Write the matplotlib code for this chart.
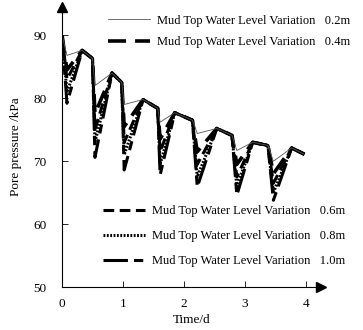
import matplotlib
matplotlib.use('Agg')
import matplotlib.pyplot as plt

# time points: start, then for each cycle trough -> peak -> drop start
time_d = [0.00, 0.08, 0.33, 0.50, 0.54, 0.82, 0.98, 1.02, 1.33, 1.57, 1.61,
          1.85, 2.14, 2.22, 2.54, 2.79, 2.87, 3.13, 3.38, 3.47, 3.77, 3.98]
peaks = [90.0, 87.6, 84.0, 79.8, 77.7, 75.2, 73.0, 72.1]
drop_start = [86.3, 82.5, 78.4, 76.5, 74.1, 72.5]
end_value = 71.1

troughs = {
    '0.2m': [86.8, 82.0, 79.0, 76.2, 74.4, 71.7, 70.0],
    '0.4m': [84.5, 77.5, 75.5, 73.5, 71.5, 69.5, 68.0],
    '0.6m': [83.0, 75.0, 73.0, 71.5, 69.5, 67.5, 66.5],
    '0.8m': [81.0, 73.0, 71.0, 69.5, 67.5, 66.0, 65.0],
    '1.0m': [79.2, 70.6, 68.6, 67.8, 65.9, 64.6, 63.8],
}


def build_series(tr):
    vals = [peaks[0]]
    for i in range(7):
        vals.append(tr[i])
        vals.append(peaks[i + 1])
        if i < 6:
            vals.append(drop_start[i])
    vals.append(end_value)
    return vals


styles = {
    '0.2m': dict(color='#555555', lw=0.6, ls='-'),
    '0.4m': dict(color='black', lw=2.6, ls=(0, (5, 2.5))),
    '0.6m': dict(color='black', lw=2.2, ls=(0, (3.5, 1.8))),
    '0.8m': dict(color='black', lw=2.2, ls=(0, (0.6, 0.5))),
    '1.0m': dict(color='black', lw=2.2, ls=(0, (8, 2, 3, 2))),
}

plt.rcParams['font.family'] = 'Liberation Serif'
fig = plt.figure(figsize=(3.63, 3.30), dpi=100)
ax = fig.add_axes([0.171, 0.130, 0.713, 0.849])

lines = {}
for key in ['1.0m', '0.8m', '0.6m', '0.4m', '0.2m']:
    ln, = ax.plot(time_d, build_series(troughs[key]), **styles[key],
                  label='Mud Top Water Level Variation   ' + key)
    lines[key] = ln

ax.set_xlim(0, 4.25)
ax.set_ylim(50, 94.5)
ax.set_xticks([0, 1, 2, 3, 4])
ax.set_yticks([50, 60, 70, 80, 90])
ax.tick_params(direction='in', length=4, width=0.6, labelsize=9.5)
ax.tick_params(axis='y', pad=11)
ax.tick_params(axis='x', pad=8)
for s in ['top', 'right']:
    ax.spines[s].set_visible(False)
for s in ['left', 'bottom']:
    ax.spines[s].set_linewidth(0.8)

# axis arrows
ax.plot(0, 1, marker='^', color='black', ms=7, transform=ax.transAxes, clip_on=False)
ax.plot(1, 0, marker='>', color='black', ms=7, transform=ax.transAxes, clip_on=False)

ax.set_xlabel('Time/d', fontsize=9.5, labelpad=3)
ax.set_ylabel('Pore pressure /kPa', fontsize=9.5, labelpad=8)

leg1 = ax.legend([lines['0.2m'], lines['0.4m']],
                 [lines['0.2m'].get_label(), lines['0.4m'].get_label()],
                 loc='upper left', bbox_to_anchor=(0.16, 0.99), frameon=False,
                 fontsize=9, handlelength=3.3, handletextpad=0.6, labelspacing=0.75,
                 borderaxespad=0)
ax.add_artist(leg1)
ax.legend([lines['0.6m'], lines['0.8m'], lines['1.0m']],
          [lines[k].get_label() for k in ['0.6m', '0.8m', '1.0m']],
          loc='upper left', bbox_to_anchor=(0.14, 0.31), frameon=False,
          fontsize=9, handlelength=3.3, handletextpad=0.6, labelspacing=1.05,
          borderaxespad=0)

fig.savefig('out.png', dpi=100)
